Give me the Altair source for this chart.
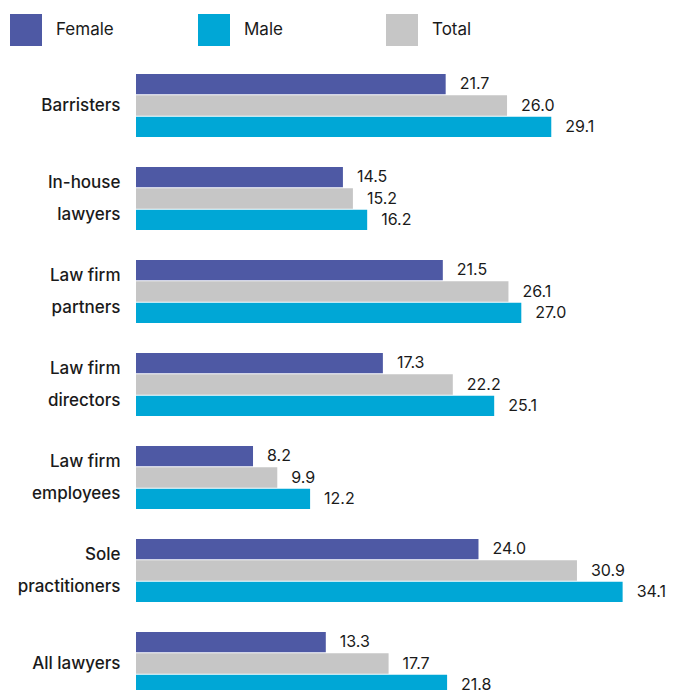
import altair as alt
import pandas as pd

categories = ["Barristers", "In-house|lawyers", "Law firm|partners", "Law firm|directors",
              "Law firm|employees", "Sole|practitioners", "All lawyers"]
female = [21.7, 14.5, 21.5, 17.3, 8.2, 24.0, 13.3]
total = [26.0, 15.2, 26.1, 22.2, 9.9, 30.9, 17.7]
male = [29.1, 16.2, 27.0, 25.1, 12.2, 34.1, 21.8]

series_legend = ["Female", "Male", "Total"]
series_order = ["Female", "Total", "Male"]
colors = ["#4e59a4", "#00a7d6", "#c6c6c6"]

rows = []
for i, c in enumerate(categories):
    rows.append({"cat": c, "series": "Female", "value": female[i]})
    rows.append({"cat": c, "series": "Total", "value": total[i]})
    rows.append({"cat": c, "series": "Male", "value": male[i]})
df = pd.DataFrame(rows)

FONT = "Inter"
TXT = "#1a1a1a"

y_enc = alt.Y("cat:N", sort=categories,
              scale=alt.Scale(range=[0, 651], paddingInner=30 / 93, paddingOuter=15 / 93),
              axis=alt.Axis(title=None, ticks=False, domain=False, grid=False, labelPadding=16,
                            labelFontSize=17, labelFont=FONT, labelFontWeight=500,
                            labelColor=TXT, labelLineHeight=32,
                            labelOffset={"condition": {"test": "indexof(datum.value, '|') >= 0",
                                                       "value": -16}, "value": 0},
                            labelExpr="split(datum.label, '|')"))
yoff = alt.YOffset("series:N", sort=series_order, scale=alt.Scale(paddingInner=1 / 21))
x_enc = alt.X("value:Q", scale=alt.Scale(domain=[0, 37.84], nice=False), axis=None)

bars = alt.Chart(df).mark_bar(clip=True).encode(
    x=x_enc, y=y_enc, yOffset=yoff,
    color=alt.Color("series:N",
                    scale=alt.Scale(domain=series_legend, range=colors),
                    legend=alt.Legend(title=None, orient="none", legendX=-126, legendY=-45,
                                      direction="horizontal", columns=3, gridAlign="all",
                                      symbolType="square",
                                      symbolSize=1024, symbolStrokeWidth=0, symbolOpacity=1,
                                      labelFontSize=17, labelFont=FONT, labelColor=TXT,
                                      labelOffset=14, columnPadding=84)),
)

labels = alt.Chart(df).mark_text(align="left", baseline="middle", dx=14, fontSize=16,
                                 font=FONT, color=TXT).encode(
    x=x_enc, y=y_enc, yOffset=yoff,
    text=alt.Text("value:Q", format=".1f"),
)

chart = alt.layer(bars, labels).properties(
    width=540, height=631,
    autosize=alt.AutoSizeParams(type="none"),
    padding={"left": 136, "top": 59, "right": 0, "bottom": 0},
).configure(background="white").configure_view(stroke=None)

chart.save("out.html", embed_options={"renderer": "svg", "actions": False})
